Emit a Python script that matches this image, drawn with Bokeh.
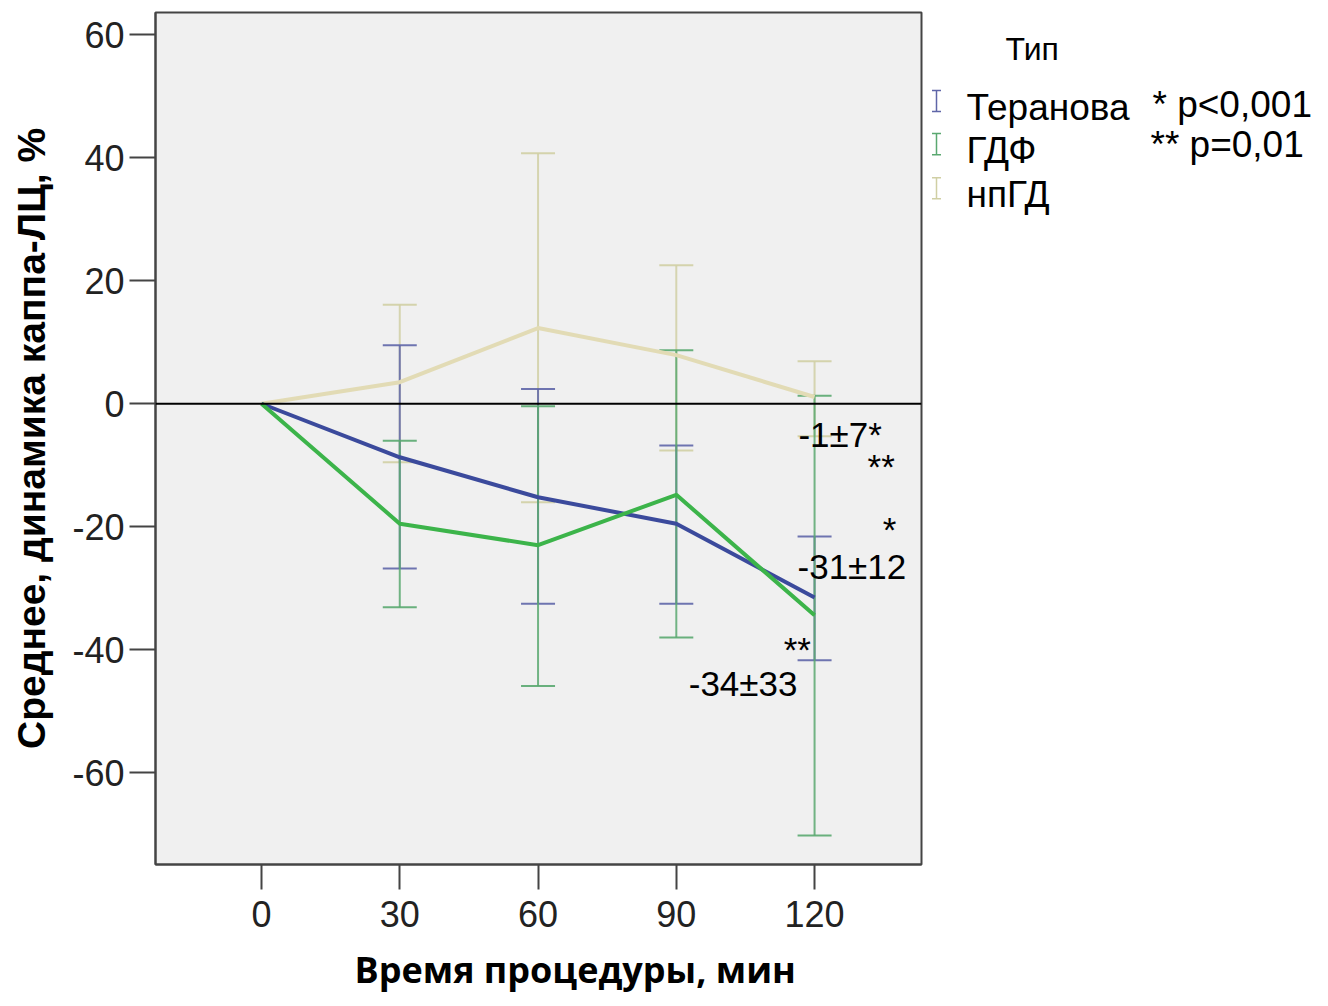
from bokeh.plotting import figure
from bokeh.layouts import row
from bokeh.models import Range1d, Span, FixedTicker, Title
from bokeh.core.properties import value
from bokeh.embed import file_html
from bokeh.resources import INLINE

# ---------------- data ----------------
times = [0, 30, 60, 90, 120]
series_names = ["Теранова", "ГДФ", "нпГД"]

teranova_mean = [0, -8.7, -15.2, -19.5, -31.5]
teranova_lo = [0, -26.8, -32.5, -32.5, -41.7]
teranova_hi = [0, 9.5, 2.4, -6.8, -21.6]

gdf_mean = [0, -19.5, -23.0, -14.8, -34.4]
gdf_lo = [0, -33.1, -45.9, -38.0, -70.2]
gdf_hi = [0, -6.0, -0.4, 8.7, 1.3]

npgd_mean = [0, 3.5, 12.3, 7.9, 1.1]
npgd_lo = [0, -9.5, -16.0, -7.6, -5.3]
npgd_hi = [0, 16.1, 40.7, 22.5, 6.9]

x_ticks = [0, 30, 60, 90, 120]
y_ticks = [-60, -40, -20, 0, 20, 40, 60]

# annotations inside the plot (text, x, baseline y)
ann_text = ["-1±7*", "**", "*", "-31±12", "**", "-34±33"]
ann_x = [116.5, 131.5, 134.8, 116.3, 113.3, 92.7]
ann_y = [-5.0, -10.2, -20.5, -26.4, -40.0, -45.4]

legend_title = "Тип"
p_notes = ["* p<0,001", "** p=0,01"]

# ---------------- styles ----------------
line_colors = ["#3b4a9c", "#3cb44a", "#e2dbb5"]
bar_colors = ["#5f66a8", "#5aa870", "#d0cfa4"]
FONT = value("Liberation Sans")

p = figure(width=924, height=1006, output_backend="svg", toolbar_location=None,
           x_range=Range1d(-23, 143.2), y_range=Range1d(-74.9, 63.6),
           min_border_left=155, min_border_right=3, min_border_top=12,
           min_border_bottom=142)
p.background_fill_color = "#f0f0f0"
p.border_fill_color = "white"
p.outline_line_color = "#444444"
p.outline_line_width = 2
p.grid.visible = False

for ax in (p.xaxis[0], p.yaxis[0]):
    ax.major_label_text_font = "Liberation Sans"
    ax.major_label_text_font_size = "36px"
    ax.major_label_text_color = "#222222"
    ax.minor_tick_line_color = None
    ax.major_tick_in = 0
    ax.axis_line_color = "#444444"
    ax.axis_line_width = 2
    ax.major_tick_line_color = "#444444"
    ax.major_tick_line_width = 2

p.xaxis.ticker = FixedTicker(ticks=x_ticks)
p.yaxis.ticker = FixedTicker(ticks=y_ticks)
p.yaxis.major_label_overrides = {t: str(t) for t in y_ticks}
p.xaxis.major_label_overrides = {t: str(t) for t in x_ticks}
p.xaxis.major_tick_out = 25
p.yaxis.major_tick_out = 26
p.xaxis.major_label_standoff = 11
p.yaxis.major_label_standoff = 5

p.yaxis.axis_label = "Среднее, динамика каппа-ЛЦ, %"
p.yaxis.axis_label_text_font = "Liberation Sans"
p.yaxis.axis_label_text_font_style = "bold"
p.yaxis.axis_label_text_font_size = "39px"
p.yaxis.axis_label_text_color = "#000000"
p.yaxis.axis_label_standoff = 16

p.add_layout(Title(text="Время процедуры, мин", align="left", offset=199,
                   text_font="Open Sans", text_font_style="bold",
                   text_font_size="36px", text_color="#000000",
                   standoff=26), "below")

p.add_layout(Span(location=0, dimension="width", line_color="#000000", line_width=2))

series = [
    (teranova_mean, teranova_lo, teranova_hi),
    (gdf_mean, gdf_lo, gdf_hi),
    (npgd_mean, npgd_lo, npgd_hi),
]

# error bars (drawn first, tan at the back)
for idx in [2, 0, 1]:
    m, lo, hi = series[idx]
    xs = times[1:]
    p.segment(x0=xs, y0=lo[1:], x1=xs, y1=hi[1:], line_color=bar_colors[idx],
              line_width=2, line_alpha=0.85)
    p.dash(xs, lo[1:], size=34, line_color=bar_colors[idx], line_width=2, line_alpha=0.9)
    p.dash(xs, hi[1:], size=34, line_color=bar_colors[idx], line_width=2, line_alpha=0.9)

# mean lines
for idx in [2, 0, 1]:
    m, lo, hi = series[idx]
    p.line(times, m, line_color=line_colors[idx], line_width=4)

p.text(ann_x, ann_y, text=ann_text, text_font=FONT, text_font_size="35px",
       text_color="#000000", text_baseline="alphabetic", text_align="left")

# ---------------- legend panel ----------------
lg = figure(width=404, height=1006, output_backend="svg", toolbar_location=None,
            x_range=Range1d(924, 1328), y_range=Range1d(1006, 0),
            min_border=0, min_border_left=0, min_border_right=0,
            min_border_top=0, min_border_bottom=0)
lg.axis.visible = False
lg.grid.visible = False
lg.outline_line_color = None
lg.background_fill_color = "white"
lg.border_fill_color = "white"

lg.text([1005], [43], text=[legend_title], text_font=FONT, text_font_size="32px",
        text_color="#000000", text_baseline="alphabetic")

item_base = [112, 163, 215]
icon_x = [936, 936, 936]
lg.segment(x0=icon_x, y0=[b - 20 for b in item_base], x1=icon_x, y1=[b + 5 for b in item_base],
           line_color=bar_colors, line_width=1.5)
lg.dash(icon_x, [b - 20 for b in item_base], size=9, line_color=bar_colors, line_width=1.5)
lg.dash(icon_x, [b + 5 for b in item_base], size=9, line_color=bar_colors, line_width=1.5)
lg.text([966] * 3, item_base, text=series_names, text_font=FONT, text_font_size="37px",
        text_color="#000000", text_baseline="alphabetic")
lg.text([1152, 1150], [109, 156], text=p_notes, text_font=FONT, text_font_size="37px",
        text_color="#000000", text_baseline="alphabetic")

layout = row(p, lg, spacing=0)
open("out.html", "w").write(file_html(layout, INLINE))
